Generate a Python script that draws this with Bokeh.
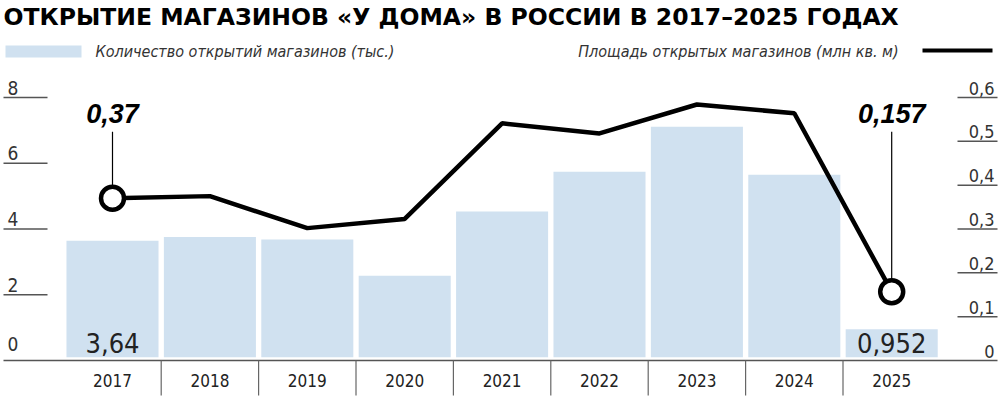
from bokeh.plotting import figure
from bokeh.models import Range1d
from bokeh.core.properties import value
from bokeh.embed import file_html
from bokeh.resources import INLINE

# ---- data ----
years = ["2017", "2018", "2019", "2020", "2021", "2022", "2023", "2024", "2025"]
stores_k = [3.64, 3.76, 3.68, 2.58, 4.53, 5.74, 7.11, 5.65, 0.952]      # thousand stores
area_mln = [0.37, 0.375, 0.302, 0.323, 0.541, 0.518, 0.584, 0.564, 0.157]  # mln sq. m
left_ticks = [0, 2, 4, 6, 8]
right_ticks = [0, 0.1, 0.2, 0.3, 0.4, 0.5, 0.6]
title = "ОТКРЫТИЕ МАГАЗИНОВ «У ДОМА» В РОССИИ В 2017–2025 ГОДАХ"
legend_bars = "Количество открытий магазинов (тыс.)"
legend_line = "Площадь открытых магазинов (млн кв. м)"

W, H = 1000, 396
X0, STEP = 112.0, 97.4     # px of first category centre, px per category
Y0, PPU = 360.0, 32.875    # px of zero, px per left unit
RATIO = 0.6 / 8            # right axis / left axis


def X(px):
    return (px - X0) / STEP


def V(py):
    return (Y0 - py) / PPU


def fmt(v):
    return f"{v:g}".replace(".", ",")


NARROW = value("DejaVu Sans Condensed, Roboto")
SANS = value("Liberation Sans")
HEAVY = value("DejaVu Sans")

p = figure(width=W, height=H, output_backend="svg", toolbar_location=None,
           x_axis_type=None, y_axis_type=None, min_border=0,
           x_range=Range1d(X(0), X(W)), y_range=Range1d(V(H), V(0)))
p.extra_y_ranges = {"right": Range1d(V(H) * RATIO, V(0) * RATIO)}
p.xgrid.visible = False
p.ygrid.visible = False
p.outline_line_color = None
p.background_fill_color = "white"
p.border_fill_color = "white"

idx = list(range(len(years)))
BAR = "#d0e1f0"
TXT = "#222222"

# bars
p.vbar(x=idx, top=stores_k, bottom=0.1, width=0.945, fill_color=BAR, line_color=None)

# baseline and category dividers
p.segment(x0=[X(3)], y0=[0], x1=[X(997)], y1=[0], line_color="#555555", line_width=1.5)
div_x = [i + 0.5 for i in idx[:-1]]
p.segment(x0=div_x, y0=[0] * len(div_x), x1=div_x, y1=[V(395)] * len(div_x),
          line_color="#666666", line_width=1.2)

# year labels
p.text(x=idx, y=[V(380)] * len(idx), text=years, text_align="center",
       text_baseline="middle", text_font=NARROW, text_font_size="17px", text_color=TXT)

# left ticks
lt = [t for t in left_ticks if t != 0]
p.segment(x0=[X(3)] * len(lt), y0=lt, x1=[X(47)] * len(lt), y1=lt,
          line_color="#555555", line_width=1.5)
p.text(x=[X(7)] * len(left_ticks), y=left_ticks, text=[str(t) for t in left_ticks],
       y_offset=[-10 if t == 0 else -3 for t in left_ticks],
       text_align="left", text_baseline="bottom", text_font=NARROW,
       text_font_size="19px", text_color="#333333")

# right ticks
rt = [t for t in right_ticks if t != 0]
p.segment(x0=[X(957)] * len(rt), y0=rt, x1=[X(997)] * len(rt), y1=rt,
          line_color="#555555", line_width=1.5, y_range_name="right")
p.text(x=[X(994)] * len(right_ticks), y=right_ticks, text=[fmt(t) for t in right_ticks],
       y_offset=-3, text_align="right", text_baseline="bottom", text_font=NARROW,
       text_font_size="18px", text_color="#333333", y_range_name="right")

# bar value labels (first and last)
ends = [idx[0], idx[-1]]
p.text(x=ends, y=[0, 0], text=[fmt(stores_k[0]), fmt(stores_k[-1])],
       y_offset=-8, text_align="center", text_baseline="bottom", text_font=NARROW,
       text_font_size="27px", text_color=TXT)

# area line
p.line(x=idx, y=area_mln, line_color="black", line_width=4.5, y_range_name="right")
# leaders + annotations
end_area = [area_mln[0], area_mln[-1]]
p.segment(x0=ends, y0=end_area, x1=ends, y1=[0.522, 0.522], line_color="black",
          line_width=1.2, y_range_name="right")
p.scatter(x=ends, y=end_area, size=23, marker="circle", fill_color="white",
          line_color="black", line_width=4.5, y_range_name="right")
p.text(x=ends, y=[0.541, 0.541], text=[fmt(a) for a in end_area], text_align="center",
       text_baseline="bottom", text_font=SANS, text_font_style="bold italic",
       text_font_size="27px", text_color="black", y_range_name="right")

# legend
p.quad(left=[X(5)], right=[X(81)], top=[V(45)], bottom=[V(57)], fill_color=BAR, line_color=None)
p.text(x=[X(95)], y=[V(51)], text=[legend_bars], text_align="left", text_baseline="middle",
       text_font=NARROW, text_font_style="italic", text_font_size="16px", text_color="#333333")
p.text(x=[X(898)], y=[V(51)], text=[legend_line], text_align="right", text_baseline="middle",
       text_font=NARROW, text_font_style="italic", text_font_size="16px", text_color="#333333")
p.segment(x0=[X(922)], y0=[V(50)], x1=[X(992)], y1=[V(50)], line_color="black", line_width=4)

# title
p.text(x=[X(3)], y=[V(2)], text=[title], text_align="left", text_baseline="top",
       text_font=HEAVY, text_font_style="bold", text_font_size="23.5px", text_color="black")

open("out.html", "w").write(file_html(p, INLINE))
